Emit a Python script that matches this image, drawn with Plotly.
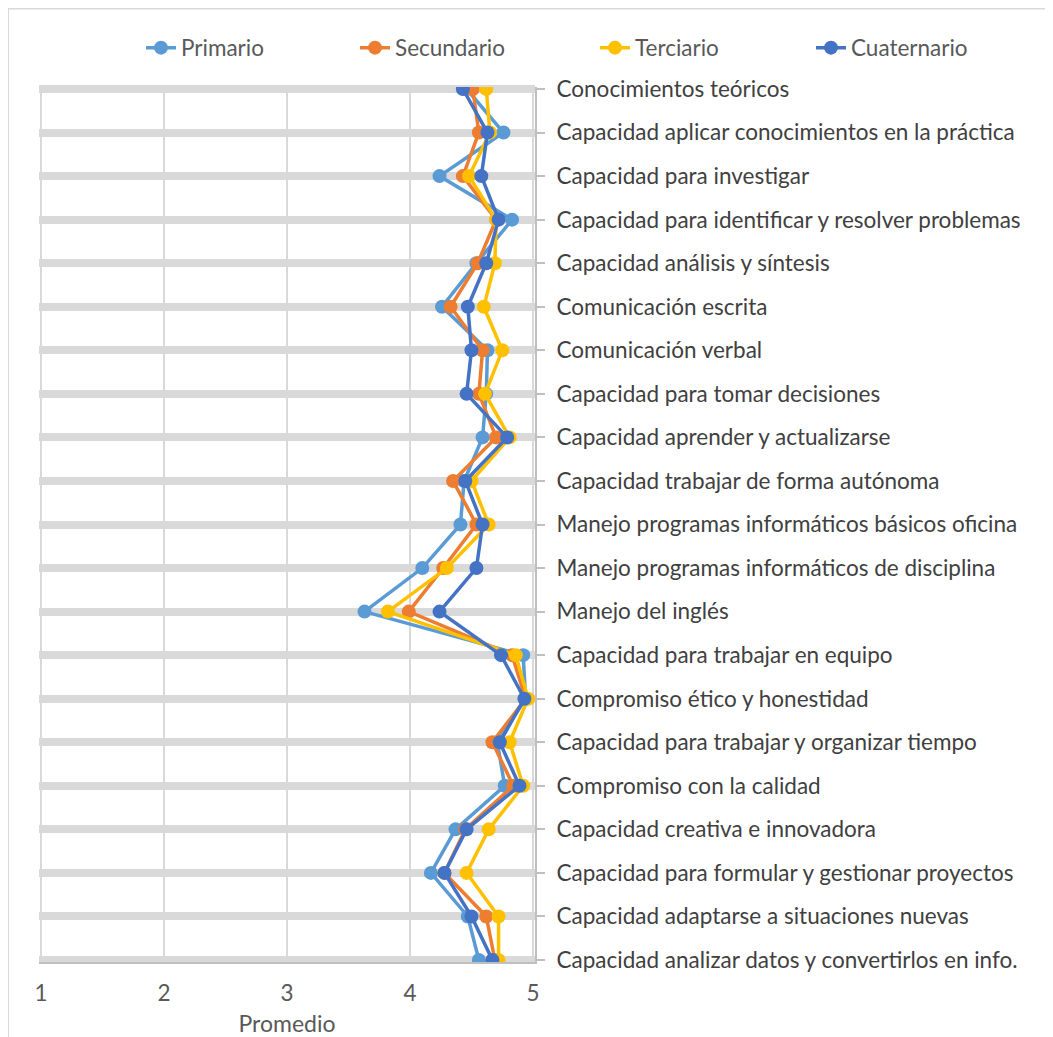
import plotly.graph_objects as go

categorias = [
    "Conocimientos teóricos",
    "Capacidad aplicar conocimientos en la práctica",
    "Capacidad para investigar",
    "Capacidad para identificar y resolver problemas",
    "Capacidad análisis y síntesis",
    "Comunicación escrita",
    "Comunicación verbal",
    "Capacidad para tomar decisiones",
    "Capacidad aprender y actualizarse",
    "Capacidad trabajar de forma autónoma",
    "Manejo programas informáticos básicos oficina",
    "Manejo programas informáticos de disciplina",
    "Manejo del inglés",
    "Capacidad para trabajar en equipo",
    "Compromiso ético y honestidad",
    "Capacidad para trabajar y organizar tiempo",
    "Compromiso con la calidad",
    "Capacidad creativa e innovadora",
    "Capacidad para formular y gestionar proyectos",
    "Capacidad adaptarse a situaciones nuevas",
    "Capacidad analizar datos y convertirlos en info.",
]

primario = [4.46, 4.76, 4.24, 4.83, 4.54, 4.26, 4.63, 4.62, 4.59, 4.44, 4.41,
            4.10, 3.63, 4.92, 4.94, 4.71, 4.77, 4.37, 4.17, 4.47, 4.56]
secundario = [4.51, 4.56, 4.43, 4.70, 4.55, 4.33, 4.59, 4.56, 4.70, 4.35, 4.54,
              4.27, 3.99, 4.83, 4.94, 4.67, 4.84, 4.45, 4.28, 4.62, 4.69]
terciario = [4.62, 4.65, 4.48, 4.70, 4.69, 4.60, 4.75, 4.61, 4.81, 4.50, 4.64,
             4.30, 3.82, 4.86, 4.96, 4.81, 4.92, 4.64, 4.46, 4.72, 4.72]
cuaternario = [4.43, 4.63, 4.58, 4.72, 4.62, 4.47, 4.50, 4.46, 4.79, 4.45, 4.59,
               4.54, 4.24, 4.74, 4.93, 4.73, 4.89, 4.46, 4.28, 4.50, 4.67]

x_ticks = [1, 2, 3, 4, 5]

series = [
    ("Primario", primario, "#5B9BD5"),
    ("Secundario", secundario, "#ED7D31"),
    ("Terciario", terciario, "#FFC000"),
    ("Cuaternario", cuaternario, "#4472C4"),
]

# The page body adds an 8px margin, so the figure is laid out in its own
# coordinates (window coordinates minus 8).
OFF = 8
W, H = 1053 - OFF, 1037 - OFF
L, R, T, B = 41 - OFF, 533 - OFF, 89 - OFF, 960 - OFF
PAD = 2  # extra pixels so edge gridlines are not clipped away
legend_text_x = [183 - OFF, 397 - OFF, 637 - OFF, 853 - OFF]
legend_y = 48 - OFF

FONT = "Lato"
TXT = "#595959"
FS = 22.5

n = len(categorias)
ux = (R - L) / (x_ticks[-1] - x_ticks[0])
uy = (B - T) / (n - 1)

fig = go.Figure()
legend_layouts = {}
for i, (name, vals, col) in enumerate(series):
    lname = "legend" if i == 0 else f"legend{i + 1}"
    fig.add_trace(go.Scatter(
        x=vals, y=categorias, name=name, mode="lines+markers",
        line=dict(color=col, width=3.5),
        marker=dict(color=col, size=14),
        legend=lname,
    ))
    legend_layouts[lname] = dict(
        orientation="h", xref="container", yref="container",
        x=(legend_text_x[i] - 42) / W, xanchor="left",
        y=1 - legend_y / H, yanchor="middle",
        font=dict(family=FONT, size=FS, color=TXT),
        bgcolor="rgba(0,0,0,0)", borderwidth=0,
    )

pl, pr, pt, pb = L - PAD, R + PAD, T - PAD, B + PAD
pw, ph = pr - pl, pb - pt


def px_to_paper_x(px):
    return (px - pl) / pw


def px_to_paper_y(py):
    return (pb - py) / ph


fig.update_layout(
    width=W, height=H,
    margin=dict(l=pl, r=W - pr, t=pt, b=H - pb, pad=0, autoexpand=False),
    paper_bgcolor="white", plot_bgcolor="white",
    font=dict(family=FONT, size=FS, color=TXT),
    showlegend=True,
    xaxis=dict(
        range=[x_ticks[0] - PAD / ux, x_ticks[-1] + PAD / ux], tickvals=x_ticks,
        showgrid=True, gridcolor="#D9D9D9",
        gridwidth=2, zeroline=False, showline=True, linecolor="#BFBFBF",
        linewidth=2, ticks="", tickfont=dict(size=FS, color=TXT),
        ticklabelstandoff=10,
        title=dict(text="Promedio", font=dict(size=23, color=TXT), standoff=11),
    ),
    yaxis=dict(
        type="category", side="right",
        range=[n - 1 + PAD / uy, -PAD / uy],
        showgrid=True, gridcolor="#D9D9D9", gridwidth=8, zeroline=False,
        showline=True, linecolor="#BFBFBF", linewidth=2,
        ticks="outside", ticklen=8, tickcolor="#BFBFBF", tickwidth=2,
        ticklabelstandoff=7,
        tickfont=dict(size=FS, color="#404040"),
    ),
    shapes=[
        dict(type="line", xref="paper", yref="paper",
             x0=px_to_paper_x(0), x1=px_to_paper_x(0),
             y0=px_to_paper_y(0), y1=px_to_paper_y(H + 5),
             line=dict(color="#D9D9D9", width=2), layer="below"),
        dict(type="line", xref="paper", yref="paper",
             x0=px_to_paper_x(0), x1=px_to_paper_x(W + 5),
             y0=px_to_paper_y(0.5), y1=px_to_paper_y(0.5),
             line=dict(color="#D9D9D9", width=2), layer="below"),
    ],
    **legend_layouts,
)

fig.write_html("out.html")
